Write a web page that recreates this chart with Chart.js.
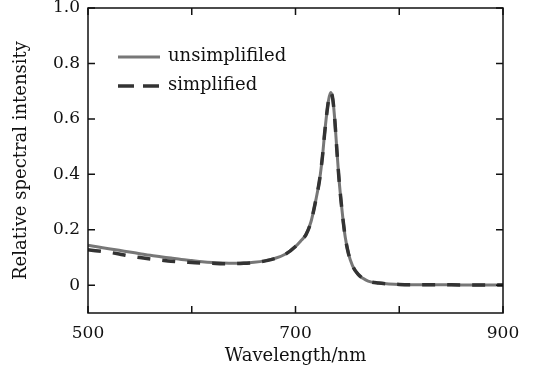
<!DOCTYPE html>
<html>
<head>
<meta charset="utf-8">
<script src="https://cdn.jsdelivr.net/npm/chart.js@4/dist/chart.umd.min.js"></script>
<style>
  html, body { margin: 0; padding: 0; background: #fff; }
  #wrap { width: 539px; height: 377px; position: relative; }
</style>
</head>
<body>
<div id="wrap"><canvas id="spectrum"></canvas></div>
<script>
// Wavelength samples (nm)
const wavelengths = [500, 510, 520, 530, 540, 550, 560, 570, 580, 590, 600, 610, 620, 630, 640, 650, 660, 670, 680, 690,
    700, 705, 710, 715, 720, 723, 726, 728, 730, 732, 734, 736, 738, 740, 742, 744, 746, 748, 751, 755, 760, 765, 770,
    780, 790, 800, 820, 840, 860, 880, 900];

// Relative spectral intensity, unsimplified model
const unsimplified = [0.144, 0.138, 0.132, 0.126, 0.120, 0.114, 0.108, 0.103, 0.098, 0.093, 0.089, 0.085, 0.082, 0.080, 0.079, 0.080, 0.083, 0.088, 0.097, 0.112,
    0.140, 0.160, 0.182, 0.230, 0.315, 0.375, 0.465, 0.545, 0.615, 0.670, 0.695, 0.670, 0.590, 0.480, 0.380, 0.300, 0.230, 0.172, 0.115, 0.070, 0.041, 0.025, 0.015,
    0.008, 0.005, 0.003, 0.002, 0.002, 0.001, 0.001, 0.001];

// Relative spectral intensity, simplified model
const simplified = [0.128, 0.124, 0.119, 0.113, 0.106, 0.100, 0.095, 0.091, 0.087, 0.084, 0.082, 0.080, 0.079, 0.078, 0.078, 0.079, 0.082, 0.087, 0.096, 0.111,
    0.140, 0.160, 0.182, 0.230, 0.315, 0.375, 0.465, 0.545, 0.615, 0.670, 0.695, 0.670, 0.590, 0.480, 0.380, 0.300, 0.230, 0.172, 0.115, 0.070, 0.041, 0.025, 0.015,
    0.008, 0.005, 0.003, 0.002, 0.002, 0.001, 0.001, 0.001];

const xTicks = [500, 600, 700, 800, 900];
const xLabelled = [500, 700, 900];
const yTicks = [0, 0.2, 0.4, 0.6, 0.8, 1.0];

const FONT = "'DejaVu Serif', 'Liberation Serif', serif";

function toPoints(ys) {
    return wavelengths.map((x, i) => ({ x: x, y: ys[i] }));
}

// Frame + inward ticks on all four sides
const framePlugin = {
    id: 'frame',
    afterDraw(chart) {
        const { ctx, chartArea: { left, right, top, bottom }, scales: { x, y } } = chart;
        const len = 7;
        ctx.save();
        ctx.strokeStyle = '#111';
        ctx.lineWidth = 1.5;
        ctx.strokeRect(left, top, right - left, bottom - top);
        ctx.beginPath();
        xTicks.forEach(v => {
            const px = x.getPixelForValue(v);
            ctx.moveTo(px, bottom); ctx.lineTo(px, bottom - len);
            ctx.moveTo(px, top); ctx.lineTo(px, top + len);
        });
        yTicks.forEach(v => {
            const py = y.getPixelForValue(v);
            ctx.moveTo(left, py); ctx.lineTo(left + len, py);
            ctx.moveTo(right, py); ctx.lineTo(right - len, py);
        });
        ctx.stroke();
        ctx.restore();
    }
};

// Legend drawn inside the plot area, top-left
const insideLegend = {
    id: 'insideLegend',
    afterDraw(chart) {
        const { ctx, chartArea: { left, top } } = chart;
        ctx.save();
        const items = [chart.data.datasets[0], chart.data.datasets[1]];
        items.forEach((ds, i) => {
            const yy = top + 49 + i * 29;
            const x0 = left + 30;
            ctx.beginPath();
            ctx.strokeStyle = ds.borderColor;
            ctx.lineWidth = ds.borderWidth;
            ctx.setLineDash(i === 0 ? [] : [16, 9]);
            ctx.moveTo(x0, yy);
            ctx.lineTo(x0 + 42, yy);
            ctx.stroke();
            ctx.setLineDash([]);
            ctx.fillStyle = '#111';
            ctx.font = '18px ' + FONT;
            ctx.textBaseline = 'middle';
            ctx.fillText(ds.label, x0 + 50, yy - 1);
        });
        ctx.restore();
    }
};

new Chart(document.getElementById('spectrum'), {
    type: 'line',
    data: {
        datasets: [
            {
                label: 'unsimplifiled',
                data: toPoints(unsimplified),
                borderColor: '#777777',
                borderWidth: 3,
                pointRadius: 0,
                cubicInterpolationMode: 'monotone',
                fill: false,
                order: 2
            },
            {
                label: 'simplified',
                data: toPoints(simplified),
                borderColor: '#333333',
                borderWidth: 3.5,
                borderDash: [13, 12],
                pointRadius: 0,
                cubicInterpolationMode: 'monotone',
                fill: false,
                order: 1
            }
        ]
    },
    options: {
        responsive: true,
        maintainAspectRatio: false,
        animation: false,
        layout: { padding: { top: 8, right: 36, left: 0, bottom: 0 } },
        plugins: {
            legend: { display: false },
            tooltip: { enabled: false }
        },
        scales: {
            x: {
                type: 'linear',
                min: 500,
                max: 900,
                afterBuildTicks: s => { s.ticks = xTicks.map(v => ({ value: v })); },
                afterFit: s => { s.height = 64; s.paddingLeft = 0; s.paddingRight = 0; },
                grid: { display: false, drawTicks: false },
                border: { display: false },
                ticks: {
                    color: '#111',
                    padding: 10,
                    maxRotation: 0,
                    autoSkip: false,
                    font: { family: FONT, size: 17 },
                    callback: v => xLabelled.includes(v) ? String(v) : ''
                },
                title: {
                    display: true,
                    text: 'Wavelength/nm',
                    color: '#111',
                    font: { family: FONT, size: 18 },
                    padding: { top: 4, bottom: 10 }
                }
            },
            y: {
                min: -0.1,
                max: 1.0,
                afterBuildTicks: s => { s.ticks = yTicks.map(v => ({ value: v })); },
                afterFit: s => { s.width = 88; s.paddingTop = 0; s.paddingBottom = 0; },
                grid: { display: false, drawTicks: false },
                border: { display: false },
                ticks: {
                    color: '#111',
                    padding: 8,
                    font: { family: FONT, size: 17 },
                    callback: v => v === 0 ? '0' : v.toFixed(1)
                },
                title: {
                    display: true,
                    text: 'Relative spectral intensity',
                    color: '#111',
                    font: { family: FONT, size: 18 },
                    padding: { top: 11, bottom: 0 }
                }
            }
        }
    },
    plugins: [framePlugin, insideLegend]
});
</script>
</body>
</html>
